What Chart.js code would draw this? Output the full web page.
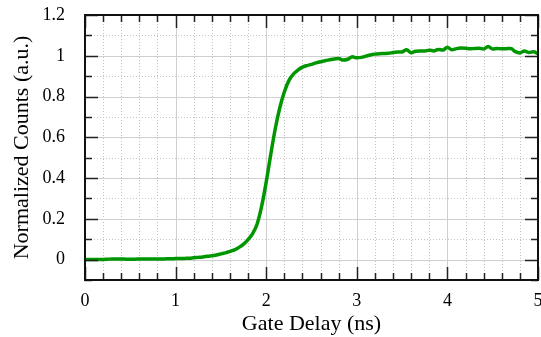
<!DOCTYPE html>
<html>
<head>
<meta charset="utf-8">
<script src="https://cdn.jsdelivr.net/npm/chart.js@4.4.1/dist/chart.umd.min.js"></script>
<style>
  html, body { margin: 0; padding: 0; background: #fff; }
  canvas { display: block; }
</style>
</head>
<body>
<canvas id="chart" width="541" height="337"></canvas>
<script>
// Data
const gateDelay = [
  0.00, 0.05, 0.10, 0.15, 0.20, 0.25, 0.30, 0.35, 0.40, 0.45,
  0.50, 0.55, 0.60, 0.65, 0.70, 0.75, 0.80, 0.85, 0.90, 0.95,
  1.00, 1.05, 1.10, 1.15, 1.20, 1.25, 1.30, 1.35, 1.40, 1.45,
  1.50, 1.55, 1.60, 1.65, 1.70, 1.75, 1.80, 1.85, 1.90, 1.95,
  2.00, 2.05, 2.10, 2.15, 2.20, 2.25, 2.30, 2.35, 2.40, 2.45,
  2.50, 2.55, 2.60, 2.65, 2.70, 2.75, 2.80, 2.85, 2.90, 2.95,
  3.00, 3.05, 3.10, 3.15, 3.20, 3.25, 3.30, 3.35, 3.40, 3.45,
  3.50, 3.55, 3.60, 3.65, 3.70, 3.75, 3.80, 3.85, 3.90, 3.95,
  4.00, 4.05, 4.10, 4.15, 4.20, 4.25, 4.30, 4.35, 4.40, 4.45,
  4.50, 4.55, 4.60, 4.65, 4.70, 4.75, 4.80, 4.85, 4.90, 4.95,
  5.00
];
const counts = [
  0.000, 0.000, 0.001, 0.001, 0.001, 0.002, 0.003, 0.003, 0.003, 0.002,
  0.002, 0.002, 0.003, 0.003, 0.003, 0.003, 0.003, 0.003, 0.004, 0.004,
  0.005, 0.005, 0.006, 0.007, 0.009, 0.011, 0.013, 0.016, 0.019, 0.023,
  0.028, 0.033, 0.040, 0.048, 0.060, 0.076, 0.098, 0.128, 0.175, 0.262,
  0.380, 0.515, 0.642, 0.745, 0.822, 0.878, 0.910, 0.930, 0.944, 0.952,
  0.958, 0.965, 0.971, 0.976, 0.980, 0.984, 0.986, 0.979, 0.983, 0.995,
  0.990, 0.992, 0.998, 1.004, 1.008, 1.010, 1.011, 1.012, 1.016, 1.018,
  1.019, 1.030, 1.015, 1.022, 1.024, 1.023, 1.027, 1.024, 1.031, 1.028,
  1.042, 1.029, 1.035, 1.038, 1.037, 1.034, 1.036, 1.037, 1.033, 1.046,
  1.033, 1.036, 1.034, 1.035, 1.036, 1.020, 1.014, 1.024, 1.016, 1.020,
  1.010
];

// Tick positions
const xMajorTicks = [0, 1, 2, 3, 4, 5];
const xMinorTicks = [0.2, 0.4, 0.6, 0.8, 1.2, 1.4, 1.6, 1.8, 2.2, 2.4, 2.6, 2.8,
                     3.2, 3.4, 3.6, 3.8, 4.2, 4.4, 4.6, 4.8];
const yMajorTicks = [0, 0.2, 0.4, 0.6, 0.8, 1, 1.2];
const yMinorTicks = [-0.1, 0.1, 0.3, 0.5, 0.7, 0.9, 1.1];

const serif = '"Liberation Serif", "Times New Roman", serif';

// Grid behind the curve, frame and inward ticks on top
const framePlugin = {
  id: 'frame',
  beforeDatasetsDraw(chart) {
    const { ctx, chartArea: a, scales: { x, y } } = chart;
    ctx.save();
    ctx.lineWidth = 1;
    // minor dotted grid
    ctx.strokeStyle = '#c4c4c4';
    ctx.setLineDash([1, 2]);
    xMinorTicks.forEach(v => {
      const px = Math.round(x.getPixelForValue(v)) + 0.5;
      ctx.beginPath(); ctx.moveTo(px, a.top); ctx.lineTo(px, a.bottom); ctx.stroke();
    });
    yMinorTicks.forEach(v => {
      const py = Math.round(y.getPixelForValue(v)) + 0.5;
      ctx.beginPath(); ctx.moveTo(a.left, py); ctx.lineTo(a.right, py); ctx.stroke();
    });
    // major solid grid
    ctx.setLineDash([]);
    ctx.strokeStyle = '#cfcfcf';
    xMajorTicks.forEach(v => {
      const px = Math.round(x.getPixelForValue(v)) + 0.5;
      ctx.beginPath(); ctx.moveTo(px, a.top); ctx.lineTo(px, a.bottom); ctx.stroke();
    });
    yMajorTicks.forEach(v => {
      const py = Math.round(y.getPixelForValue(v)) + 0.5;
      ctx.beginPath(); ctx.moveTo(a.left, py); ctx.lineTo(a.right, py); ctx.stroke();
    });
    ctx.restore();
  },
  afterDatasetsDraw(chart) {
    const { ctx, chartArea: a, scales: { x, y } } = chart;
    ctx.save();
    ctx.strokeStyle = '#222';
    ctx.lineWidth = 1.5;
    const xt = (list, len) => list.forEach(v => {
      const px = Math.round(x.getPixelForValue(v)) + 0.5;
      ctx.beginPath();
      ctx.moveTo(px, a.bottom); ctx.lineTo(px, a.bottom - len);
      ctx.moveTo(px, a.top); ctx.lineTo(px, a.top + len);
      ctx.stroke();
    });
    const yt = (list, len) => list.forEach(v => {
      const py = Math.round(y.getPixelForValue(v)) + 0.5;
      ctx.beginPath();
      ctx.moveTo(a.left, py); ctx.lineTo(a.left + len, py);
      ctx.moveTo(a.right, py); ctx.lineTo(a.right - len, py);
      ctx.stroke();
    });
    xt(xMajorTicks, 13); xt(xMinorTicks, 7);
    yt(yMajorTicks, 13); yt(yMinorTicks, 7);
    // frame
    ctx.lineWidth = 2;
    ctx.strokeStyle = '#111';
    ctx.strokeRect(a.left, a.top, a.right - a.left, a.bottom - a.top);
    ctx.restore();
  }
};

const ctx = document.getElementById('chart').getContext('2d');
const chart = new Chart(ctx, {
  type: 'line',
  data: {
    datasets: [{
      data: gateDelay.map((g, i) => ({ x: g, y: counts[i] })),
      borderColor: 'rgb(0, 150, 0)',
      borderWidth: 3.5,
      pointRadius: 0,
      cubicInterpolationMode: 'monotone',
      fill: false
    }]
  },
  options: {
    responsive: false,
    animation: false,
    devicePixelRatio: 1,
    layout: { padding: { top: 15, right: 3, left: 0, bottom: 0 } },
    plugins: { legend: { display: false }, tooltip: { enabled: false } },
    scales: {
      x: {
        type: 'linear',
        min: 0,
        max: 5,
        grid: { display: false },
        border: { display: false },
        afterBuildTicks: s => { s.ticks = xMajorTicks.map(v => ({ value: v })); },
        afterFit: s => { s.height = 57; s.paddingLeft = 0; s.paddingRight = 0; },
        ticks: {
          color: '#000',
          padding: 2,
          maxRotation: 0,
          font: { family: serif, size: 18 },
          callback: v => String(v)
        },
        title: {
          display: true,
          text: 'Gate Delay (ns)',
          color: '#000',
          padding: { top: 0, bottom: 0 },
          font: { family: serif, size: 22 }
        }
      },
      y: {
        type: 'linear',
        min: -0.1,
        max: 1.2,
        grid: { display: false },
        border: { display: false },
        afterBuildTicks: s => { s.ticks = yMajorTicks.map(v => ({ value: v })); },
        afterFit: s => { s.width = 85; s.paddingTop = 0; s.paddingBottom = 0; },
        ticks: {
          color: '#000',
          padding: 12,
          font: { family: serif, size: 18 },
          callback: v => String(v)
        },
        title: {
          display: true,
          text: 'Normalized Counts (a.u.)',
          color: '#000',
          padding: { top: 9, bottom: 0 },
          font: { family: serif, size: 22 }
        }
      }
    }
  },
  plugins: [framePlugin]
});
</script>
</body>
</html>
